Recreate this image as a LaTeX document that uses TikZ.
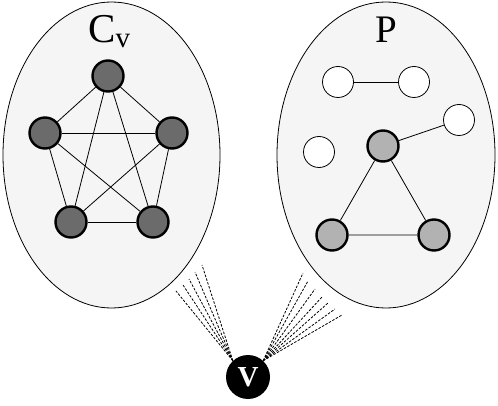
\documentclass[tikz,border=0pt]{standalone}
\usepackage{fontspec}
\setmainfont{Liberation Serif}
\begin{document}
\begin{tikzpicture}[x=1pt,y=-1pt,
  set/.style={draw,line width=0.8pt,fill=black!4},
  clique/.style={circle,draw,line width=2.4pt,fill=black!58,minimum size=31pt,inner sep=0pt},
  pnode/.style={circle,draw,line width=2.4pt,fill=black!30,minimum size=31pt,inner sep=0pt},
  free/.style={circle,draw,line width=0.8pt,fill=white,minimum size=31pt,inner sep=0pt},
  edge/.style={line width=0.8pt},
  ray/.style={dash pattern=on 2.5pt off 1.5pt,line width=0.8pt}]
\useasboundingbox (0,0) rectangle (498,406);

% the two sets
\draw[set] (111.5,155) ellipse [x radius=108.5,y radius=153];
\draw[set] (386,155) ellipse [x radius=109,y radius=153];

\node[anchor=base west,inner sep=0pt] (cvlabel) at (88,43)
  {\fontsize{41}{41}\selectfont C\raisebox{-5pt}{\fontsize{29}{29}\selectfont v}};
\node[anchor=base,inner sep=0pt] (plabel) at (386,43)
  {\fontsize{39}{39}\selectfont P};

% clique C_v
\node[clique] (c1) at (108,76) {};
\node[clique] (c2) at (172,133) {};
\node[clique] (c3) at (153,222) {};
\node[clique] (c4) at (71,222) {};
\node[clique] (c5) at (45,133) {};
\foreach \i/\j in {1/2,1/3,1/4,1/5,2/3,2/4,2/5,3/4,3/5,4/5}
  \draw[edge] (c\i) -- (c\j);

% graph P
\node[free] (p1) at (338,82) {};
\node[free] (p2) at (414,82) {};
\node[free] (p3) at (459,120) {};
\node[free] (p4) at (319,152) {};
\node[pnode] (q1) at (383,146) {};
\node[pnode] (q2) at (434,235) {};
\node[pnode] (q3) at (332,235) {};
\draw[edge] (p1) -- (p2);
\draw[edge] (q1) -- (p3);
\draw[edge] (q1) -- (q2) -- (q3) -- (q1);

% vertex v
\node[circle,fill=black,minimum size=44pt,inner sep=0pt,text=white] (v) at (248,377)
  {\fontsize{29}{29}\selectfont\bfseries V};

\foreach \x/\y [count=\k] in {176/291,183/285,189/279,195/272,202/265} {
  \coordinate (l\k) at (\x,\y);
  \draw[ray] (v.133) -- (l\k);
}
\foreach \x/\y [count=\k] in {303/273,308/281,315/289,322/297,328/303,335/309,342/315} {
  \coordinate (r\k) at (\x,\y);
  \draw[ray] (v.47) -- (r\k);
}
\end{tikzpicture}
\end{document}
